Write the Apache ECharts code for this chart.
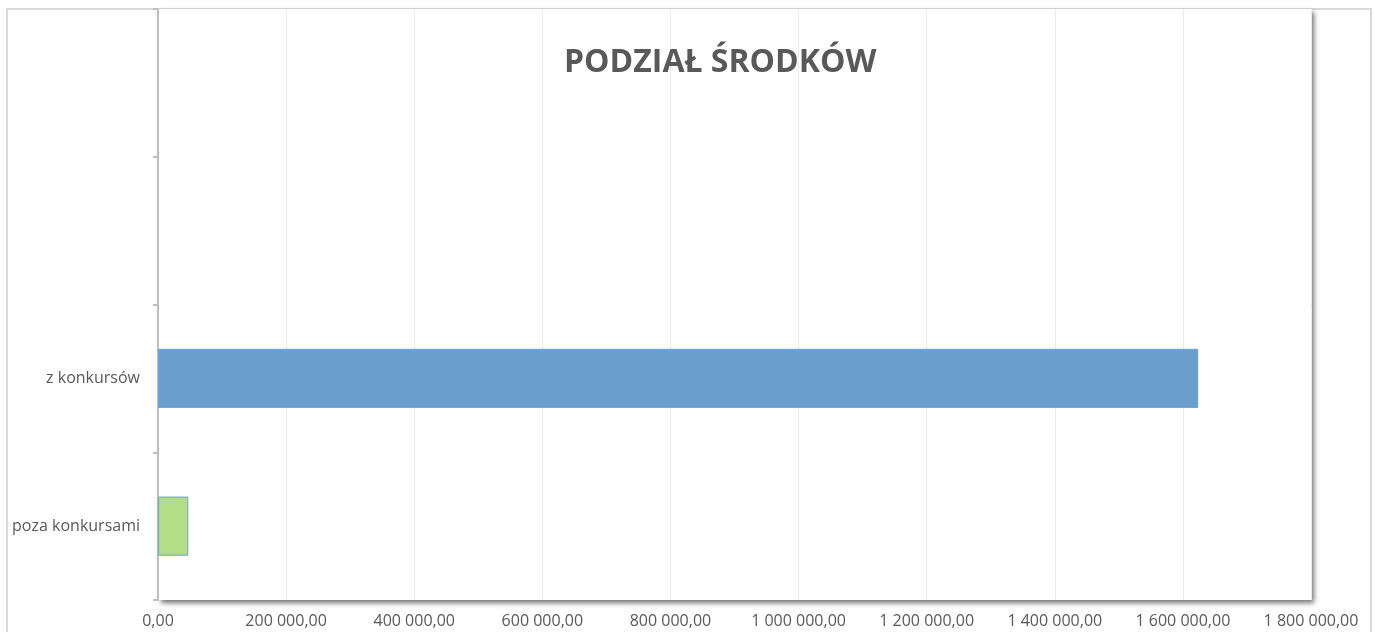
<!DOCTYPE html>
<html><head><meta charset="utf-8">
<script src="https://cdn.jsdelivr.net/npm/echarts@6/dist/echarts.min.js"></script>
<style>html,body{margin:0;padding:0;background:#fff}#c{width:1379px;height:632px}</style>
</head><body><div id="c"></div>
<script>
const categories = ['poza konkursami', 'z konkursów', ' ', '  '];
const values = [47300, 1624000, null, null];
const fillColors = ['#b3de86', '#6a9ecc', '#6a9ecc', '#6a9ecc'];
const borderColors = ['#6fa0d6', '#6aa3d8', '#6aa3d8', '#6aa3d8'];
const xTicks = { min: 0, max: 1800000, interval: 200000 };
const titleText = 'PODZIAŁ ŚRODKÓW';

function fmt(v) {
  const s = Math.round(v).toString().replace(/\B(?=(\d{3})+(?!\d))/g, ' ');
  return s + ',00';
}

const chart = echarts.init(document.getElementById('c'), null, { renderer: 'canvas' });
chart.setOption({
  animation: false,
  backgroundColor: '#fff',
  textStyle: { fontFamily: 'Open Sans' },
  graphic: [{
    type: 'rect', z: -10, silent: true,
    shape: { x: 7, y: 9, width: 1364, height: 700 },
    style: { fill: 'none', stroke: '#d9d9d9', lineWidth: 2 }
  }],
  title: {
    text: titleText, left: 559, top: 42,
    textStyle: { fontFamily: 'Open Sans', fontWeight: 'bold', fontSize: 32, color: '#595959' }
  },
  grid: {
    left: 158, right: 68, top: 9, bottom: 32,
    show: true, backgroundColor: '#fff', borderWidth: 0,
    shadowColor: 'rgba(0,0,0,0.55)', shadowBlur: 5, shadowOffsetX: 3, shadowOffsetY: 3
  },
  xAxis: {
    type: 'value', min: xTicks.min, max: xTicks.max, interval: xTicks.interval,
    axisLine: { show: false }, axisTick: { show: false },
    splitLine: { show: true, lineStyle: { color: '#ececec', width: 1 } },
    axisLabel: { formatter: fmt, color: '#595959', fontSize: 16, margin: 13, fontFamily: 'Open Sans' }
  },
  yAxis: {
    type: 'category', data: categories,
    axisLine: { show: true, lineStyle: { color: '#bfbfbf', width: 2 } },
    axisTick: { show: true, length: 5, lineStyle: { color: '#bfbfbf', width: 2 } },
    axisLabel: { color: '#595959', fontSize: 16, margin: 18, fontFamily: 'Open Sans' },
    splitLine: { show: false }
  },
  series: [{
    type: 'bar', barWidth: '40%',
    data: values.map((v, i) => ({
      value: v,
      itemStyle: { color: fillColors[i], borderColor: borderColors[i], borderWidth: 1 }
    }))
  }]
});
</script></body></html>
